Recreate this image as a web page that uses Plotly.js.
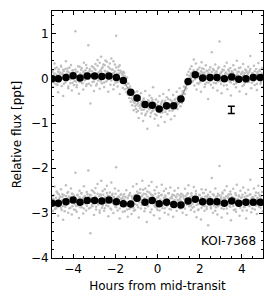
<!DOCTYPE html>
<html><head><meta charset="utf-8">
<script src="https://cdn.plot.ly/plotly-3.0.1.min.js"></script>
<style>html,body{margin:0;padding:0;background:#fff}#chart{width:274px;height:303px}</style>
</head><body><div id="chart"></div>
<script>
// Raw (unbinned) points, hours from mid-transit
const rawX = [
-4.98,-4.95,-4.91,-4.88,-4.85,-4.81,-4.78,-4.74,-4.71,-4.68,
-4.64,-4.61,-4.57,-4.54,-4.51,-4.47,-4.44,-4.40,-4.37,-4.34,
-4.30,-4.27,-4.23,-4.20,-4.17,-4.13,-4.10,-4.06,-4.03,-4.00,
-3.96,-3.93,-3.89,-3.86,-3.83,-3.79,-3.76,-3.72,-3.69,-3.66,
-3.62,-3.59,-3.55,-3.52,-3.49,-3.45,-3.42,-3.38,-3.35,-3.32,
-3.28,-3.25,-3.21,-3.18,-3.15,-3.11,-3.08,-3.04,-3.01,-2.98,
-2.94,-2.91,-2.87,-2.84,-2.81,-2.77,-2.74,-2.70,-2.67,-2.64,
-2.60,-2.57,-2.53,-2.50,-2.47,-2.43,-2.40,-2.36,-2.33,-2.30,
-2.26,-2.23,-2.19,-2.16,-2.13,-2.09,-2.06,-2.02,-1.99,-1.96,
-1.92,-1.89,-1.85,-1.82,-1.79,-1.75,-1.72,-1.68,-1.65,-1.62,
-1.58,-1.55,-1.51,-1.48,-1.44,-1.41,-1.37,-1.34,-1.30,-1.27,-1.23,-1.20,-1.16,-1.13,
-1.09,-1.06,-1.02,-0.99,-0.96,-0.92,-0.89,-0.85,-0.82,-0.79,
-0.75,-0.72,-0.68,-0.65,-0.62,-0.58,-0.55,-0.51,-0.48,-0.45,
-0.41,-0.38,-0.34,-0.31,-0.28,-0.24,-0.21,-0.17,-0.14,-0.11,
-0.07,-0.04,0.00,0.03,0.06,0.10,0.13,0.17,0.20,0.23,
0.27,0.30,0.34,0.37,0.40,0.44,0.47,0.51,0.54,0.57,
0.61,0.64,0.68,0.71,0.74,0.78,0.81,0.85,0.88,0.91,
0.95,0.98,1.02,1.05,
1.09,1.12,1.16,1.19,1.23,1.26,1.30,1.33,1.37,1.40,1.44,1.47,1.51,1.54,1.58,
1.61,1.65,1.68,1.72,1.75,1.78,1.82,1.85,1.89,1.92,
1.95,1.99,2.02,2.06,2.09,2.12,2.16,2.19,2.23,2.26,
2.29,2.33,2.36,2.40,2.43,2.46,2.50,2.53,2.57,2.60,
2.63,2.67,2.70,2.74,2.77,2.80,2.84,2.87,2.91,2.94,
2.97,3.01,3.04,3.08,3.11,3.14,3.18,3.21,3.25,3.28,
3.31,3.35,3.38,3.42,3.45,3.48,3.52,3.55,3.59,3.62,
3.65,3.69,3.72,3.76,3.79,3.82,3.86,3.89,3.93,3.96,
3.99,4.03,4.06,4.10,4.13,4.16,4.20,4.23,4.27,4.30,
4.33,4.37,4.40,4.44,4.47,4.50,4.54,4.57,4.61,4.64,
4.67,4.71,4.74,4.78,4.81,4.84,4.88,4.91,4.95,4.98
];
// Raw flux, transit light curve (ppt), two groups of exposures
const rawTop = [
0.14,-0.19,0.07,0.33,-0.06,-0.13,0.24,0.03,-0.31,0.20,
0.09,0.00,0.28,-0.17,0.11,-0.39,0.16,0.05,-0.09,0.38,
-0.04,0.22,-0.22,0.13,0.02,-0.11,0.30,-0.27,0.18,0.06,
-0.15,0.10,1.05,-0.07,-0.20,0.15,0.04,-0.34,0.26,-0.02,
0.19,-0.10,0.08,-0.25,0.35,0.12,-0.03,-0.17,0.23,0.01,
0.74,-0.12,0.17,-0.56,0.09,0.27,-0.08,0.05,-0.28,0.21,
0.32,-0.16,0.06,0.41,-0.05,0.14,-0.23,0.18,0.48,-0.11,
0.25,0.02,-0.19,0.29,0.10,-0.07,0.37,0.15,-0.30,0.08,
0.22,-0.14,0.44,0.03,0.19,-0.24,0.12,0.31,-0.09,0.95,
0.06,-0.18,0.26,0.11,-0.35,0.17,-0.02,0.09,-0.21,0.13,
0.12,-0.24,-0.05,-0.31,0.02,-0.36,-0.12,-0.44,-0.18,-0.52,-0.27,-0.60,-0.33,-0.71,
-0.31,-0.62,-0.48,-0.75,-0.29,-0.55,-0.88,-0.41,-0.60,-0.33,
-0.70,-0.52,-0.95,-0.45,-0.63,-0.28,-0.79,-0.57,-1.12,-0.49,
-0.66,-0.38,-0.85,-0.61,-0.44,-0.73,-0.20,-0.58,-0.90,-0.67,
-0.47,-0.82,-0.60,-1.05,-0.71,-0.39,-0.64,-0.86,-0.53,-0.76,
-0.35,-0.62,-0.97,-0.50,-0.69,-0.42,-0.80,-0.58,-0.26,-0.66,
-0.48,-0.91,-0.55,-0.72,-0.37,-0.63,-0.84,-0.46,-0.59,-0.30,
-0.68,-0.41,-0.55,-0.22,
-0.62,-0.38,-0.55,-0.29,-0.46,-0.18,-0.35,-0.06,-0.22,0.08,-0.12,0.15,-0.03,0.21,0.04,
0.27,-0.08,0.15,0.42,-0.16,0.06,0.33,-0.25,0.19,0.02,
-0.12,0.24,0.09,-0.30,0.36,0.13,-0.04,0.21,-0.19,0.07,
0.29,-0.09,0.16,-0.46,0.11,0.03,0.25,-0.14,0.58,0.08,
-0.21,0.18,0.01,0.31,-0.11,0.14,-0.27,0.22,0.05,0.82,
-0.06,0.12,-0.33,0.20,0.04,-0.16,0.27,0.10,-0.02,0.35,
-0.24,0.09,0.17,-0.07,0.23,-0.38,0.13,0.00,0.29,-0.13,
0.06,0.19,-0.20,0.39,0.08,-0.05,0.15,-0.29,0.24,0.02,
0.11,-0.17,0.32,0.07,-0.10,0.20,-0.35,0.14,0.03,0.26,
-0.08,0.17,0.50,-0.22,0.09,0.12,-0.04,0.28,-0.15,0.05,
0.21,-0.26,0.10,0.34,-0.01,0.16,-0.12,0.07,0.23,-0.19
];
const rawTop2 = [
0.05,0.18,-0.09,0.11,0.22,-0.03,0.08,-0.14,0.15,0.00,
-0.07,0.13,0.26,-0.01,0.09,0.19,-0.12,0.04,0.21,-0.05,
0.10,0.16,-0.18,0.07,0.24,-0.02,0.12,0.03,-0.10,0.17,
0.08,-0.06,0.20,0.14,-0.15,0.01,0.27,0.06,-0.08,0.11,
0.02,0.23,-0.11,0.15,0.05,-0.04,0.18,0.30,-0.13,0.09,
0.13,-0.01,0.21,0.07,-0.16,0.16,0.04,0.25,-0.07,0.10,
0.19,0.03,-0.12,0.28,0.12,0.00,0.35,-0.06,0.15,0.22,
0.06,0.31,-0.09,0.17,0.40,0.02,0.14,-0.03,0.26,0.09,
0.33,0.07,-0.05,0.20,0.11,0.38,-0.14,0.16,0.04,0.24,
0.10,-0.08,0.18,0.02,0.29,-0.02,0.13,-0.10,0.07,0.15,
-0.02,0.05,-0.15,-0.08,-0.22,-0.12,-0.30,-0.21,-0.37,-0.28,-0.45,-0.38,-0.49,-0.52,
-0.55,-0.45,-0.68,-0.58,-0.50,-0.72,-0.61,-0.47,-0.66,-0.56,
-0.78,-0.62,-0.49,-0.70,-0.59,-0.82,-0.53,-0.65,-0.74,-0.60,
-0.51,-0.69,-0.57,-0.77,-0.64,-0.48,-0.71,-0.63,-0.55,-0.80,
-0.66,-0.58,-0.73,-0.52,-0.68,-0.62,-0.76,-0.57,-0.65,-0.50,
-0.70,-0.60,-0.54,-0.75,-0.63,-0.56,-0.67,-0.46,-0.61,-0.72,
-0.58,-0.64,-0.51,-0.69,-0.55,-0.60,-0.48,-0.66,-0.53,-0.59,
-0.44,-0.57,-0.41,-0.49,
-0.50,-0.43,-0.36,-0.40,-0.28,-0.33,-0.20,-0.25,-0.12,-0.15,-0.04,-0.08,0.06,0.01,0.10,
0.12,0.04,-0.06,0.18,0.09,-0.02,0.14,0.07,-0.11,0.20,
0.03,0.11,-0.08,0.16,0.01,0.22,-0.04,0.09,0.13,-0.13,
0.06,0.17,-0.01,0.10,-0.09,0.19,0.05,-0.05,0.14,0.02,
0.21,-0.10,0.08,0.12,-0.03,0.16,0.04,-0.07,0.25,0.00,
0.10,-0.12,0.15,0.06,-0.02,0.18,-0.06,0.09,0.13,-0.15,
0.03,0.20,-0.04,0.11,0.07,-0.09,0.16,0.01,0.12,-0.05,
0.19,0.05,-0.11,0.08,0.14,-0.02,0.23,0.04,-0.07,0.10,
-0.01,0.15,0.06,-0.14,0.12,0.03,0.18,-0.08,0.09,0.02,
0.13,-0.03,0.21,0.07,-0.10,0.11,0.04,-0.06,0.16,0.00,
0.08,-0.12,0.14,0.05,-0.04,0.19,0.02,-0.08,0.11,0.06
];
// Raw flux, offset comparison curve (ppt), two groups of exposures
const rawBottom = [
-2.62,-2.95,-2.70,-2.41,-2.83,-2.89,-2.52,-2.74,-3.06,-2.58,
-2.66,-2.78,-2.47,-2.93,-2.64,-3.15,-2.60,-2.71,-2.86,-2.38,
-2.80,-2.55,-2.99,-2.63,-2.75,-2.88,-2.45,-3.03,-2.57,-2.69,
-2.92,-2.65,-2.10,-2.84,-2.97,-2.61,-2.72,-3.11,-2.50,-2.77,
-2.56,-2.87,-2.68,-3.01,-2.40,-2.64,-2.79,-2.94,-2.53,-2.76,
-2.05,-2.90,-2.59,-3.45,-2.67,-2.49,-2.85,-2.71,-3.04,-2.55,
-2.44,-2.92,-2.70,-2.35,-2.81,-2.62,-2.99,-2.58,-2.28,-2.88,
-2.51,-2.74,-2.95,-2.47,-2.66,-2.83,-2.39,-2.61,-3.07,-2.68,
-2.54,-2.90,-2.32,-2.73,-2.57,-3.00,-2.64,-2.45,-2.86,-1.98,
-2.70,-2.94,-2.50,-2.65,-3.12,-2.59,-2.78,-2.67,-2.97,-2.63,
-2.58,-2.96,-2.77,-2.49,-2.84,-3.08,-2.62,-2.91,-2.55,-2.74,-3.02,-2.66,-2.41,-2.88,
-2.60,-2.93,-2.72,-2.35,-2.82,-2.55,-3.10,-2.68,-2.47,-2.90,
-2.63,-2.28,-2.79,-2.57,-2.96,-2.45,-2.71,-3.20,-2.52,-2.84,
-2.39,-2.66,-2.98,-2.58,-2.31,-2.77,-2.62,-3.05,-2.49,-2.86,
-2.70,-2.42,-2.93,-2.65,-2.55,-3.12,-2.80,-2.60,-2.37,-2.89,
-2.73,-2.51,-2.99,-2.64,-2.46,-2.85,-2.69,-3.03,-2.56,-2.78,
-2.43,-2.92,-2.67,-2.59,-3.08,-2.74,-2.50,-2.87,-2.63,-2.95,
-2.71,-2.44,-2.83,-2.61,
-2.90,-2.57,-2.76,-2.99,-2.63,-2.81,-2.46,-2.72,-3.04,-2.58,-2.69,-2.38,-2.85,-2.65,-2.93,
-2.56,-2.88,-2.68,-2.42,-2.97,-2.73,-2.51,-3.09,-2.64,-2.80,
-2.92,-2.59,-2.71,-3.14,-2.47,-2.66,-2.83,-2.55,-2.95,-2.70,
-2.48,-2.86,-2.62,-3.27,-2.67,-2.76,-2.53,-2.90,-2.22,-2.69,
-2.99,-2.60,-2.78,-2.45,-2.87,-2.65,-3.03,-2.57,-2.74,-1.95,
-2.82,-2.63,-3.10,-2.54,-2.72,-2.91,-2.49,-2.68,-2.79,-2.40,
-3.01,-2.66,-2.58,-2.85,-2.52,-3.16,-2.64,-2.77,-2.46,-2.93,
-2.70,-2.56,-2.97,-2.37,-2.69,-2.81,-2.61,-3.06,-2.50,-2.75,
-2.65,-2.94,-2.43,-2.71,-2.86,-2.55,-3.12,-2.62,-2.74,-2.48,
-2.83,-2.59,-2.26,-2.98,-2.67,-2.64,-2.80,-2.45,-2.92,-2.73,
-2.54,-3.02,-2.66,-2.39,-2.78,-2.60,-2.88,-2.70,-2.53,-2.96
];
const rawBottom2 = [
-2.68,-2.82,-2.60,-2.77,-2.91,-2.66,-2.73,-2.55,-2.86,-2.70,
-2.79,-2.63,-2.88,-2.72,-2.58,-2.84,-2.69,-2.96,-2.75,-2.62,
-2.81,-2.67,-2.53,-2.78,-2.89,-2.64,-2.74,-2.57,-2.85,-2.71,
-2.61,-2.80,-2.93,-2.68,-2.76,-2.59,-2.83,-2.70,-2.65,-2.87,
-2.73,-2.56,-2.79,-2.66,-2.90,-2.62,-2.75,-2.69,-2.84,-2.58,
-2.77,-2.64,-2.71,-2.88,-2.60,-2.82,-2.67,-2.52,-2.78,-2.74,
-2.63,-2.86,-2.69,-2.57,-2.80,-2.72,-2.94,-2.61,-2.76,-2.66,
-2.83,-2.59,-2.73,-2.89,-2.65,-2.78,-2.55,-2.70,-2.85,-2.62,
-2.75,-2.68,-2.92,-2.60,-2.77,-2.64,-2.81,-2.71,-2.57,-2.87,
-2.66,-2.79,-2.63,-2.74,-2.90,-2.69,-2.58,-2.82,-2.72,-2.76,
-2.70,-2.85,-2.64,-2.78,-2.92,-2.67,-2.81,-2.59,-2.74,-2.88,-2.62,-2.77,-2.69,-2.95,
-2.66,-2.80,-2.59,-2.73,-2.52,-2.87,-2.64,-2.76,-2.55,-2.70,
-2.82,-2.61,-2.48,-2.74,-2.67,-2.90,-2.58,-2.71,-2.63,-2.85,
-2.69,-2.54,-2.78,-2.66,-2.92,-2.60,-2.75,-2.68,-2.83,-2.57,
-2.72,-2.88,-2.65,-2.79,-2.62,-2.94,-2.70,-2.76,-2.59,-2.84,
-2.73,-2.66,-2.89,-2.61,-2.77,-2.69,-2.82,-2.56,-2.74,-2.91,
-2.67,-2.80,-2.63,-2.75,-2.86,-2.60,-2.71,-2.83,-2.65,-2.78,
-2.58,-2.73,-2.88,-2.68,
-2.72,-2.64,-2.85,-2.59,-2.77,-2.68,-2.90,-2.62,-2.74,-2.81,-2.56,-2.70,-2.79,-2.66,-2.83,
-2.61,-2.79,-2.70,-2.86,-2.64,-2.75,-2.57,-2.82,-2.68,-2.93,
-2.73,-2.60,-2.80,-2.66,-2.88,-2.71,-2.55,-2.77,-2.84,-2.63,
-2.74,-2.91,-2.67,-2.59,-2.81,-2.72,-2.64,-2.87,-2.69,-2.78,
-2.58,-2.83,-2.70,-2.95,-2.65,-2.76,-2.62,-2.85,-2.73,-2.60,
-2.79,-2.68,-2.89,-2.57,-2.75,-2.66,-2.82,-2.71,-2.63,-2.90,
-2.74,-2.61,-2.80,-2.69,-2.86,-2.58,-2.77,-2.65,-2.84,-2.72,
-2.67,-2.92,-2.60,-2.78,-2.70,-2.83,-2.63,-2.75,-2.88,-2.66,
-2.81,-2.59,-2.73,-2.87,-2.64,-2.76,-2.69,-2.94,-2.62,-2.79,
-2.71,-2.85,-2.58,-2.74,-2.67,-2.90,-2.65,-2.80,-2.72,-2.61,
-2.83,-2.68,-2.77,-2.55,-2.86,-2.70,-2.63,-2.79,-2.74,-2.82
];
// Binned points
const binX = [-5.00,-4.70,-4.34,-4.00,-3.67,-3.33,-2.98,-2.64,-2.30,-1.95,-1.62,-1.27,-0.97,-0.59,-0.25,0.08,0.43,0.77,1.11,1.45,1.79,2.14,2.49,2.82,3.17,3.52,3.85,4.19,4.54,4.87];
const binTop = [-0.01,-0.01,0.02,0.06,0.01,0.05,0.05,0.04,0.05,0.02,-0.05,-0.31,-0.44,-0.58,-0.60,-0.68,-0.61,-0.61,-0.46,-0.07,0.08,0.01,0.02,0.02,-0.01,0.03,-0.02,-0.01,0.02,0.02];
const binBottom = [-2.78,-2.78,-2.75,-2.71,-2.76,-2.72,-2.72,-2.73,-2.71,-2.75,-2.79,-2.80,-2.67,-2.76,-2.72,-2.79,-2.76,-2.81,-2.82,-2.73,-2.69,-2.75,-2.75,-2.75,-2.78,-2.73,-2.78,-2.76,-2.76,-2.76];
// Typical error bar
const errX = [3.5], errY = [-0.70], errSize = [0.08];
const label = "KOI-7368";

const F = "DejaVu Sans, sans-serif";
const grey = "#bfbfbf";
const rawMarker = {color: grey, size: 2.5};
const traces = [
  {x: rawX, y: rawTop, mode: "markers", type: "scatter", marker: rawMarker, hoverinfo: "skip"},
  {x: rawX, y: rawTop2, mode: "markers", type: "scatter", marker: rawMarker, hoverinfo: "skip"},
  {x: rawX, y: rawBottom, mode: "markers", type: "scatter", marker: rawMarker, hoverinfo: "skip"},
  {x: rawX, y: rawBottom2, mode: "markers", type: "scatter", marker: rawMarker, hoverinfo: "skip"},
  {x: binX, y: binTop, mode: "lines+markers", type: "scatter", line: {color: "#888", width: 1}, marker: {color: "black", size: 7.5}},
  {x: binX, y: binBottom, mode: "markers", type: "scatter", marker: {color: "black", size: 7.5}},
  {x: errX, y: errY, mode: "markers", type: "scatter", marker: {color: "black", size: 1},
   error_y: {type: "data", array: errSize, visible: true, color: "black", thickness: 1.5, width: 3.5}}
];
const axisCommon = {
  showline: true, linecolor: "black", linewidth: 1, mirror: "allticks",
  ticks: "inside", ticklen: 4, tickwidth: 1, tickcolor: "black",
  showgrid: false, zeroline: false,
  tickfont: {family: F, size: 12, color: "black"}
};
const layout = {
  width: 274, height: 303,
  margin: {l: 52, r: 11, t: 11, b: 45},
  paper_bgcolor: "white", plot_bgcolor: "white",
  showlegend: false,
  xaxis: Object.assign({}, axisCommon, {
    range: [-5, 5], tick0: 0, dtick: 2,
    minor: {dtick: 0.5, ticks: "inside", ticklen: 2, tickcolor: "black", showgrid: false},
    title: {text: "Hours from mid-transit", font: {family: F, size: 12, color: "black"}, standoff: 6}
  }),
  yaxis: Object.assign({}, axisCommon, {
    range: [-4, 1.5], tick0: 0, dtick: 1,
    minor: {dtick: 0.2, ticks: "inside", ticklen: 2, tickcolor: "black", showgrid: false},
    title: {text: "Relative flux [ppt]", font: {family: F, size: 12, color: "black"}, standoff: 6}
  }),
  annotations: [{
    text: label, xref: "paper", yref: "paper", x: 0.976, y: 0.069,
    xanchor: "right", yanchor: "middle", showarrow: false,
    font: {family: F, size: 12, color: "black"}
  }]
};
Plotly.newPlot("chart", traces, layout, {displayModeBar: false, staticPlot: true});
</script>
</body></html>
